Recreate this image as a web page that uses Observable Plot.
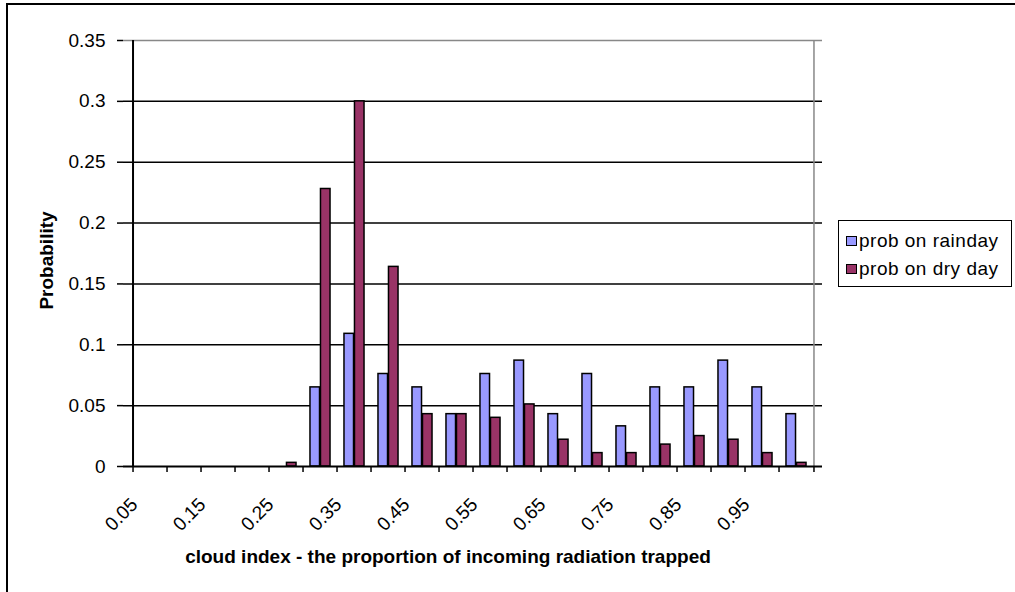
<!DOCTYPE html>
<html>
<head>
<meta charset="utf-8">
<script src="https://cdn.jsdelivr.net/npm/d3@7"></script>
<script src="https://cdn.jsdelivr.net/npm/@observablehq/plot@0.6"></script>
<style>
  body { margin: 0; background: #fff; font-family: "Liberation Sans", Arial, sans-serif; }
  #wrap { position: relative; width: 1015px; height: 592px; overflow: hidden; background: #fff; }
  #border { position: absolute; left: 6px; top: 3px; width: 1100px; height: 700px; border-top: 2px solid #000; border-left: 2px solid #000; pointer-events: none; }
  #chart { position: absolute; left: 0; top: 0; }
  #legend { position: absolute; left: 838px; top: 220px; width: 172px; height: 65px; border: 1.5px solid #000; background: #fff; font-size: 19px; color: #000; }
  .item { position: absolute; left: 7px; height: 22px; display: flex; align-items: center; white-space: nowrap; letter-spacing: 0.5px; }
  .sw { width: 9px; height: 8px; border: 1.5px solid #000; margin-right: 2px; }
</style>
</head>
<body>
<div id="wrap">
  <div id="chart"></div>
  <div id="legend"></div>
  <div id="border"></div>
</div>
<script>
// ---- data ----
const categories = ["0.05","0.1","0.15","0.2","0.25","0.3","0.35","0.4","0.45","0.5",
                    "0.55","0.6","0.65","0.7","0.75","0.8","0.85","0.9","0.95","1"];
const rainProb = [0, 0, 0, 0, 0, 0.065, 0.109, 0.076, 0.065, 0.043,
                  0.076, 0.087, 0.043, 0.076, 0.033, 0.065, 0.065, 0.087, 0.065, 0.043];
const dryProb  = [0, 0, 0, 0, 0.003, 0.228, 0.300, 0.164, 0.043, 0.043,
                  0.040, 0.051, 0.022, 0.011, 0.011, 0.018, 0.025, 0.022, 0.011, 0.003];
const yTicks = [0, 0.05, 0.1, 0.15, 0.2, 0.25, 0.3, 0.35];
const xLabelTicks = ["0.05","0.15","0.25","0.35","0.45","0.55","0.65","0.75","0.85","0.95"];
const seriesNames = ["prob on rainday", "prob on dry day"];
const seriesColors = ["#9999FF", "#993366"];
const xTitle = "cloud index - the proportion of incoming radiation trapped";
const yTitle = "Probability";

// ---- layout ----
const W = 1015, H = 592, ml = 123, mr = 193, mt = 40, mb = 126;
const bw = (W - ml - mr) / categories.length;
const barW = 10.5;
const font = "'Liberation Sans', Arial, sans-serif";

const rows = categories.map((c, i) => ({cat: c, rain: rainProb[i], dry: dryProb[i]}));

const chart = Plot.plot({
  width: W, height: H,
  marginLeft: ml, marginRight: mr, marginTop: mt, marginBottom: mb,
  style: {fontFamily: font, fontSize: "19px", color: "#000", background: "transparent"},
  x: {type: "band", domain: categories, padding: 0, axis: null},
  y: {domain: [0, 0.35], axis: null},
  marks: [
    Plot.ruleY(yTicks.filter(t => t > 0 && t < 0.35), {stroke: "#000", strokeWidth: 1.5}),
    Plot.ruleY([0.35], {stroke: "#888", strokeWidth: 1.5}),
    Plot.ruleX([categories[categories.length - 1]], {y1: 0, y2: 0.35, dx: bw / 2, stroke: "#888", strokeWidth: 1.5}),
    Plot.barY(rows.filter(d => d.rain > 0), {x: "cat", y: "rain", fill: seriesColors[0], stroke: "#000", strokeWidth: 1.5,
      insetLeft: bw / 2 - barW, insetRight: bw / 2}),
    Plot.barY(rows.filter(d => d.dry > 0), {x: "cat", y: "dry", fill: seriesColors[1], stroke: "#000", strokeWidth: 1.5,
      insetLeft: bw / 2, insetRight: bw / 2 - barW}),
    Plot.axisY({ticks: yTicks, tickSize: 6, tickPadding: 12, tickFormat: d => String(+d.toFixed(2)),
      fontSize: 19, label: null, strokeWidth: 1.5}),
    Plot.axisX({ticks: categories, tickSize: 6, tickFormat: () => "", dx: -bw / 2, label: null, strokeWidth: 1.5}),
    Plot.axisX({ticks: [categories[categories.length - 1]], tickSize: 6, tickFormat: () => "", dx: bw / 2, label: null, strokeWidth: 1.5}),
    Plot.axisX({ticks: xLabelTicks, tickSize: 0, tickPadding: 35, tickRotate: -45, dx: -16, label: null, fontSize: 19}),
    Plot.ruleY([0], {stroke: "#000", strokeWidth: 2}),
    Plot.ruleX([categories[0]], {y1: 0, y2: 0.35, dx: -bw / 2, stroke: "#000", strokeWidth: 2}),
    Plot.text([xTitle], {text: d => d, frameAnchor: "bottom", lineAnchor: "middle", dy: 90, dx: -25, fontWeight: "bold", fontSize: 19}),
    Plot.text([yTitle], {text: d => d, frameAnchor: "left", textAnchor: "middle", lineAnchor: "middle", rotate: -90, dx: -77, dy: 7, fontWeight: "bold", fontSize: 19})
  ]
});
document.getElementById("chart").appendChild(chart);

// legend
const legend = document.getElementById("legend");
const rowY = [8.5, 37];
seriesNames.forEach((name, i) => {
  const it = document.createElement("div");
  it.className = "item";
  it.style.top = rowY[i] + "px";
  const sw = document.createElement("div");
  sw.className = "sw";
  sw.style.background = seriesColors[i];
  const tx = document.createElement("span");
  tx.textContent = name;
  it.appendChild(sw); it.appendChild(tx);
  legend.appendChild(it);
});
</script>
</body>
</html>
